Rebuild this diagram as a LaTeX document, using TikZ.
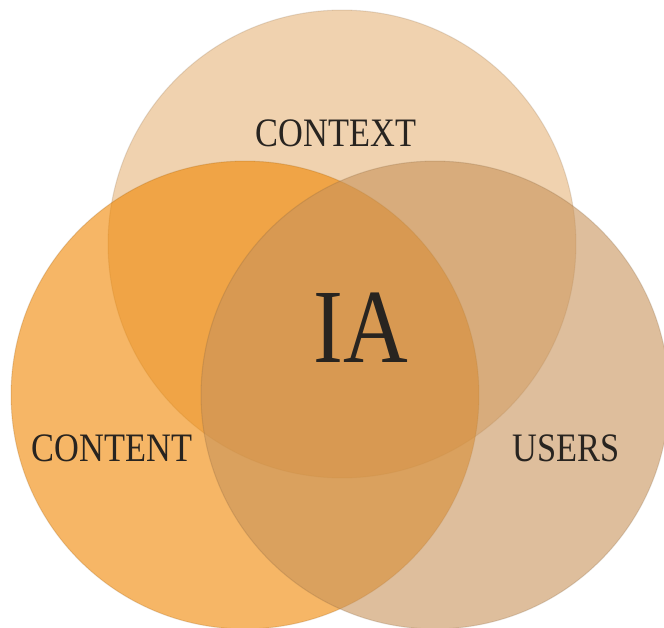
\documentclass[tikz,border=0pt]{standalone}
\usepackage{graphicx}
\usepackage{fontspec}
\setmainfont{Liberation Serif}
\definecolor{contextcol}{RGB}{230,180,123}
\definecolor{contentcol}{RGB}{240,134,0}
\definecolor{userscol}{RGB}{200,147,90}
\definecolor{labelgray}{RGB}{40,36,32}
\newcommand{\narrow}[1]{\scalebox{0.85}[1]{#1}}
\begin{document}
\begin{tikzpicture}[x=0.02cm,y=-0.02cm,line join=round,
	circ/.style={fill opacity=0.6,draw opacity=0.2,line width=0.6pt},
	lbl/.style={text=labelgray,inner sep=0pt,anchor=base,font=\fontsize{23}{23}\selectfont}]
	\useasboundingbox (0,0) rectangle (664,628);
	\fill[white] (0,0) rectangle (664,628);
	% the three sets, back to front
	\filldraw[circ,fill=contextcol,draw=contextcol!60!black] (342,244) circle[radius=4.68cm];
	\filldraw[circ,fill=contentcol,draw=contentcol!60!black] (245,395) circle[radius=4.68cm];
	\filldraw[circ,fill=userscol,draw=userscol!60!black] (435,395) circle[radius=4.68cm];
	% labels
	\node[lbl] (context) at (336,147) {\narrow{CONTEXT}};
	\node[lbl] (content) at (112,462) {\narrow{CONTENT}};
	\node[lbl] (users) at (566,462) {\narrow{USERS}};
	\node[lbl,font=\fontsize{60}{60}\selectfont] (ia) at (361,363) {\narrow{IA}};
\end{tikzpicture}
\end{document}
